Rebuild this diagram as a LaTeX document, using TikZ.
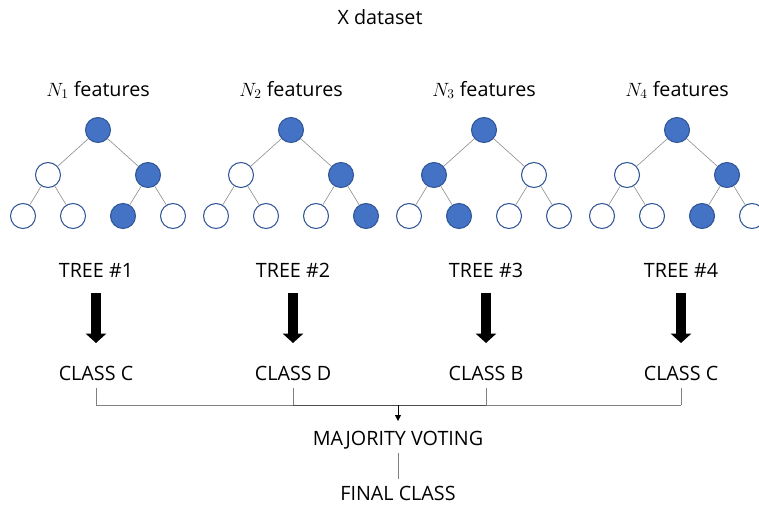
\documentclass[tikz,border=0pt]{standalone}
\usepackage{fontspec}
\setmainfont{Open Sans}
\usetikzlibrary{arrows.meta}
\definecolor{nodeblue}{HTML}{4472C4}
\definecolor{nodeedge}{HTML}{2F5597}
\definecolor{edgegray}{HTML}{8C8C8C}
\begin{document}
\begin{tikzpicture}[x=0.75pt,y=-0.75pt,
  lbl/.style={font=\fontsize{14.8}{17}\selectfont, inner sep=1pt},
  tnode/.style={circle, minimum size=18.75pt, inner sep=0pt, draw=nodeedge, line width=0.8pt, fill=white},
  on/.style={fill=nodeblue},
  off/.style={},
  tedge/.style={draw=edgegray, line width=0.45pt},
  bigarrow/.style={line width=7.5pt, -{Triangle[width=15pt,length=7pt]}},
  thin/.style={draw=gray, line width=0.5pt}]
\useasboundingbox (0,0) rectangle (759,506);
\clip (0,0) rectangle (759,506);

\node[lbl] (title) at (380,17) {X dataset};

\foreach \k/\rx/\a/\b/\c/\d/\e/\f in {1/98/off/on/off/off/on/off,2/291/off/on/off/off/off/on,3/484/on/off/off/on/off/off,4/677/off/on/off/off/on/off}{
  \node[lbl] (f\k) at (\rx,90) {$N_{\k}$ features};
  \node[tnode,on] (r\k) at (\rx,130) {};
  \node[tnode,\a] (m\k a) at (\rx-50,175) {};
  \node[tnode,\b] (m\k b) at (\rx+50,175) {};
  \node[tnode,\c] (l\k a) at (\rx-75,216) {};
  \node[tnode,\d] (l\k b) at (\rx-25,216) {};
  \node[tnode,\e] (l\k c) at (\rx+25,216) {};
  \node[tnode,\f] (l\k d) at (\rx+75,216) {};
  \draw[tedge] (r\k) -- (m\k a);
  \draw[tedge] (r\k) -- (m\k b);
  \draw[tedge] (m\k a) -- (l\k a);
  \draw[tedge] (m\k a) -- (l\k b);
  \draw[tedge] (m\k b) -- (l\k c);
  \draw[tedge] (m\k b) -- (l\k d);
}

\foreach \k/\cx/\cl in {1/96/C,2/293/D,3/486/B,4/681/C}{
  \node[lbl] (t\k) at (\cx,270) {TREE \#\k};
  \node[lbl] (c\k) at (\cx,373) {CLASS \cl};
  \coordinate (as\k) at (\cx,293);
  \coordinate (ae\k) at (\cx,343);
  \draw[bigarrow] (as\k) -- (ae\k);
  \coordinate (bt\k) at (\cx,388);
  \coordinate (bb\k) at (\cx,405);
  \draw[thin] (bt\k) -- (bb\k);
}
\draw[thin] (bb1) -- (bb2);
\draw[draw=black!70, line width=0.6pt] (bb2) -- (bb3);
\draw[thin] (bb3) -- (bb4);

\node[lbl] (mv) at (398,440) {MAJORITY VOTING};
\node[lbl] (fc) at (398,493) {FINAL CLASS};
\coordinate (bm) at (398,405);
\coordinate (bme) at (398,421);
\draw[line width=0.6pt, -{Triangle[width=4.5pt,length=4.5pt]}] (bm) -- (bme);
\coordinate (ls) at (398,453);
\coordinate (le) at (398,479);
\draw[thin] (ls) -- (le);
\end{tikzpicture}
\end{document}
